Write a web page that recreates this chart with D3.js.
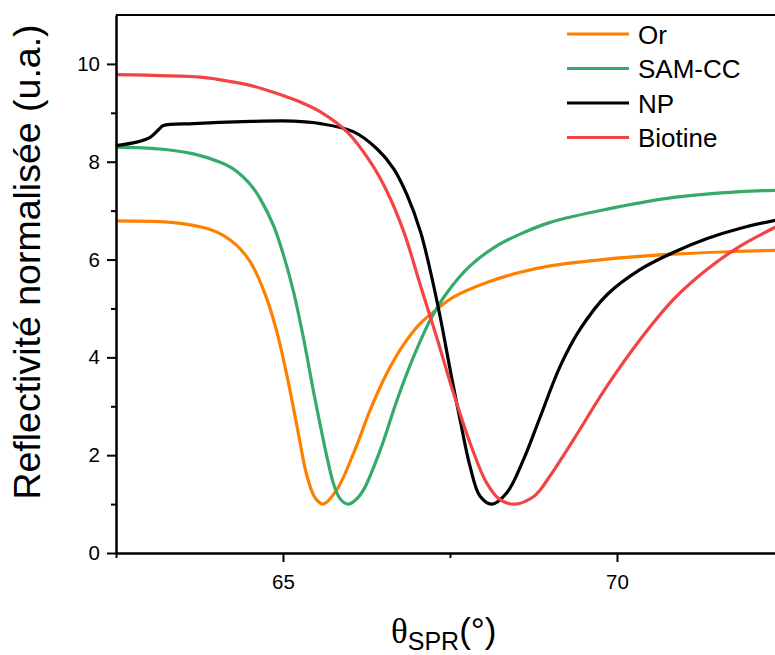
<!DOCTYPE html>
<html>
<head>
<meta charset="utf-8">
<script src="https://cdn.jsdelivr.net/npm/d3@7"></script>
<style>
  html, body { margin: 0; padding: 0; background: #fff; }
  svg { display: block; }
  text { font-family: Arial, "Liberation Sans", sans-serif; fill: #000; }
</style>
</head>
<body>
<svg id="chart" width="775" height="655"></svg>
<script>
// ---- Data ----
const seriesNames = ["Or", "SAM-CC", "NP", "Biotine"];
const seriesColors = ["#ff8000", "#36aa6a", "#000000", "#f24444"];

const orX = [62.5, 63.4, 63.9, 64.1, 64.3, 64.45, 64.55, 64.76, 64.91, 65.06, 65.21, 65.36, 65.48, 65.6, 65.8, 66.06, 66.31, 66.56, 66.81, 67.06, 67.31, 67.55, 68.05, 68.55, 69.0, 69.85, 70.85, 71.85, 72.5];
const orY = [6.79, 6.75, 6.62, 6.50, 6.30, 6.07, 5.86, 5.19, 4.51, 3.62, 2.59, 1.57, 1.13, 1.0, 1.28, 2.05, 2.94, 3.69, 4.27, 4.70, 4.99, 5.23, 5.53, 5.74, 5.87, 6.01, 6.11, 6.17, 6.19];

const samX = [62.5, 63.16, 63.66, 64.06, 64.25, 64.41, 64.55, 64.66, 64.86, 65.01, 65.16, 65.31, 65.46, 65.56, 65.66, 65.76, 65.86, 65.98, 66.1, 66.21, 66.46, 66.71, 66.96, 67.21, 67.46, 67.8, 68.2, 68.55, 69.0, 69.85, 70.85, 71.85, 72.5];
const samY = [8.30, 8.26, 8.16, 7.99, 7.86, 7.68, 7.47, 7.24, 6.69, 6.08, 5.33, 4.37, 3.28, 2.60, 1.95, 1.40, 1.10, 1.0, 1.1, 1.30, 2.12, 3.14, 4.03, 4.78, 5.33, 5.87, 6.28, 6.52, 6.76, 7.03, 7.27, 7.39, 7.42];

const npX = [62.5, 62.81, 63.01, 63.14, 63.21, 63.66, 64.41, 65.16, 65.56, 66.06, 66.41, 66.66, 66.86, 67.06, 67.21, 67.36, 67.51, 67.65, 67.8, 67.95, 68.13, 68.35, 68.6, 68.85, 69.15, 69.45, 69.85, 70.35, 70.85, 71.35, 71.85, 72.5];
const npY = [8.33, 8.40, 8.50, 8.66, 8.74, 8.78, 8.82, 8.83, 8.78, 8.61, 8.26, 7.85, 7.31, 6.56, 5.74, 4.78, 3.69, 2.73, 1.77, 1.16, 1.0, 1.23, 1.91, 2.78, 3.82, 4.58, 5.28, 5.80, 6.15, 6.43, 6.64, 6.84];

const bioX = [62.5, 63.76, 64.0, 64.51, 64.9, 65.11, 65.26, 65.56, 65.96, 66.31, 66.56, 66.81, 67.06, 67.31, 67.55, 67.8, 68.05, 68.25, 68.48, 68.75, 68.85, 69.0, 69.35, 69.85, 70.35, 70.85, 71.35, 71.85, 72.5];
const bioY = [9.78, 9.73, 9.69, 9.56, 9.40, 9.30, 9.22, 9.02, 8.61, 7.99, 7.38, 6.56, 5.46, 4.37, 3.28, 2.25, 1.43, 1.09, 1.0, 1.15, 1.29, 1.58, 2.32, 3.41, 4.37, 5.19, 5.80, 6.28, 6.75];

const xMajorTicks = [65, 70];
const xMinorTicks = [62.5, 67.5, 72.5];
const yMajorTicks = [0, 2, 4, 6, 8, 10];
const yMinorTicks = [1, 3, 5, 7, 9];
const xTitleParts = ["θ", "SPR", "(°)"];
const yTitle = "Reflectivité normalisée (u.a.)";

// ---- Build ----
const allX = [orX, samX, npX, bioX];
const allY = [orY, samY, npY, bioY];
const series = seriesNames.map((name, i) => ({
  name, color: seriesColors[i],
  values: allX[i].map((xv, j) => ({ x: xv, y: allY[i][j] }))
}));

const svg = d3.select("#chart");
const mLeft = 116, mTop = 15, mBottom = 553, mRight = 784;

const x = d3.scaleLinear().domain([62.5, 72.5]).range([mLeft, mRight]);
const y = d3.scaleLinear().domain([0, 11]).range([mBottom, mTop]);

svg.append("defs").append("clipPath").attr("id", "clip")
  .append("rect").attr("x", mLeft).attr("y", mTop).attr("width", mRight - mLeft).attr("height", mBottom - mTop);

const line = d3.line().x(d => x(d.x)).y(d => y(d.y)).curve(d3.curveCatmullRom.alpha(0.5));

const gLines = svg.append("g").attr("clip-path", "url(#clip)");
gLines.selectAll("path").data(series).join("path")
  .attr("d", d => line(d.values))
  .attr("fill", "none")
  .attr("stroke", d => d.color)
  .attr("stroke-width", 3.2)
  .attr("stroke-linejoin", "round");

// Axes
const styleAxis = g => {
  g.select(".domain").attr("stroke", "#000").attr("stroke-width", 2);
  g.selectAll(".tick line").attr("stroke", "#000").attr("stroke-width", 2);
  g.selectAll(".tick text").style("font-family", "Arial, 'Liberation Sans', sans-serif").attr("fill", "#000");
};

// X minor
svg.append("g").attr("transform", `translate(0,${mBottom})`)
  .call(d3.axisBottom(x).tickValues(xMinorTicks).tickSize(5).tickFormat("").tickSizeOuter(0))
  .call(styleAxis);
// X major
svg.append("g").attr("transform", `translate(0,${mBottom})`)
  .call(d3.axisBottom(x).tickValues(xMajorTicks).tickSize(9).tickPadding(12).tickSizeOuter(0).tickFormat(d3.format("d")))
  .call(styleAxis)
  .call(g => g.selectAll(".tick text").style("font-size", "20.5px"));

// Y minor
svg.append("g").attr("transform", `translate(${mLeft},0)`)
  .call(d3.axisLeft(y).tickValues(yMinorTicks).tickSize(5).tickFormat("").tickSizeOuter(0))
  .call(styleAxis);
// Y major
svg.append("g").attr("transform", `translate(${mLeft},0)`)
  .call(d3.axisLeft(y).tickValues(yMajorTicks).tickSize(9).tickPadding(7).tickSizeOuter(0).tickFormat(d3.format("d")))
  .call(styleAxis)
  .call(g => g.selectAll(".tick text").style("font-size", "20.5px"));

// Top frame
svg.append("line").attr("x1", mLeft).attr("x2", mRight).attr("y1", mTop).attr("y2", mTop)
  .attr("stroke", "#000").attr("stroke-width", 2);

// Y title
svg.append("text")
  .attr("transform", `translate(40,${(mTop + mBottom) / 2 - 22}) rotate(-90)`)
  .attr("text-anchor", "middle")
  .style("font-size", "37.5px")
  .text(yTitle);

// X title
const xt = svg.append("text").attr("x", 391).attr("y", 643);
xt.append("tspan").style("font-family", "'Liberation Serif', 'Times New Roman', serif").style("font-size", "35px").text(xTitleParts[0]);
xt.append("tspan").attr("dy", 7).style("font-size", "25px").text(xTitleParts[1]);
xt.append("tspan").attr("dy", -7).style("font-size", "35px").text(xTitleParts[2]);

// Legend
const legend = svg.append("g");
const legY0 = 34, legStep = 34.5;
series.forEach((s, i) => {
  const yy = legY0 + i * legStep;
  legend.append("line").attr("x1", 567).attr("x2", 629).attr("y1", yy).attr("y2", yy)
    .attr("stroke", s.color).attr("stroke-width", 3.2);
  legend.append("text").attr("x", 638).attr("y", yy + 9.5).style("font-size", "26px").text(s.name);
});
</script>
</body>
</html>
